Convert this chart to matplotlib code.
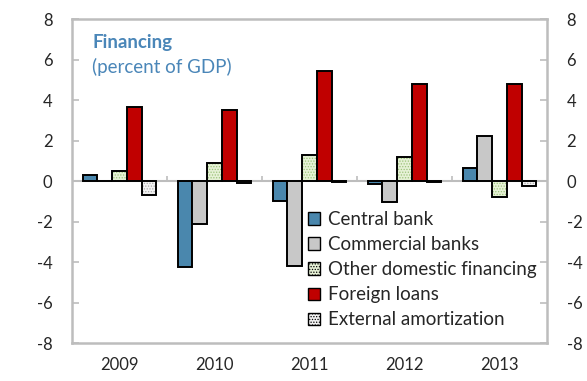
import numpy as np
import matplotlib.pyplot as plt
from matplotlib.patches import Patch

plt.rcParams['font.family'] = ['Lato', 'DejaVu Sans']
plt.rcParams['hatch.linewidth'] = 0.6
plt.rcParams['axes.unicode_minus'] = False

years = ['2009', '2010', '2011', '2012', '2013']
central_bank = [0.3, -4.25, -1.0, -0.15, 0.65]
commercial_banks = [0.0, -2.1, -4.2, -1.05, 2.22]
other_domestic = [0.5, 0.9, 1.3, 1.2, -0.8]
foreign_loans = [3.68, 3.53, 5.44, 4.78, 4.78]
external_amort = [-0.7, -0.12, -0.05, -0.05, -0.25]

series = [
    ('Central bank', central_bank, '#4a87ad', None, None),
    ('Commercial banks', commercial_banks, '#c8c8c8', None, None),
    ('Other domestic financing', other_domestic, '#e6f1d6', '......', '#9cc47a'),
    ('Foreign loans', foreign_loans, '#c00000', None, None),
    ('External amortization', external_amort, '#f2f2f2', '......', '#ababab'),
]

grey = '#bdbdbd'
txt = '#262626'

fig = plt.figure(figsize=(5.87, 3.81), dpi=100)
ax = fig.add_axes([0.1227, 0.0997, 0.8093, 0.8503])

x = np.arange(len(years))
w = 0.155
handles = []
for i, (name, vals, fc, hatch, hc) in enumerate(series):
    pos = x + (i - 2) * w
    if hatch:
        ax.bar(pos, vals, w, color=fc, edgecolor=hc, hatch=hatch, linewidth=0, zorder=2)
        ax.bar(pos, vals, w, fill=False, edgecolor='black', linewidth=1.4, zorder=3)
    else:
        ax.bar(pos, vals, w, color=fc, edgecolor='black', linewidth=1.4, zorder=3)
    handles.append(Patch(facecolor=fc, edgecolor='black', hatch=hatch, linewidth=1.0, label=name))

# zero line with small ticks between the years
ax.axhline(0, color=grey, linewidth=1.5, zorder=1)
ax.vlines(x[:-1] + 0.5, 0, 0.25, color=grey, linewidth=1.2, zorder=1)

ax.set_xlim(-0.5, 4.5)
ax.set_ylim(-8, 8)
ax.set_yticks(np.arange(-8, 9, 2))
ax.set_xticks(x)
ax.set_xticklabels(years)
ax.tick_params(axis='x', length=0, pad=10, labelsize=12, colors=txt)
ax.tick_params(axis='y', direction='in', length=5, width=1.2, color=grey,
               labelsize=12, labelcolor=txt, left=True, right=True,
               labelleft=True, labelright=True, pad=14)
for s in ax.spines.values():
    s.set_color(grey)
    s.set_linewidth(1.8)

ax.text(0.043, 0.927, 'Financing', transform=ax.transAxes, color='#4a86b8',
        fontsize=13.5, fontweight='bold', va='center')
ax.text(0.043, 0.853, '(percent of GDP)', transform=ax.transAxes, color='#4a86b8',
        fontsize=13.5, va='center')

leg = ax.legend(handles=handles, loc='upper left', bbox_to_anchor=(0.48, 0.43),
                frameon=False, fontsize=13.5, handlelength=0.65, handleheight=0.65,
                handletextpad=0.45, labelspacing=0.43, borderaxespad=0)
for t in leg.get_texts():
    t.set_color(txt)

fig.savefig('out.png', dpi=100)
